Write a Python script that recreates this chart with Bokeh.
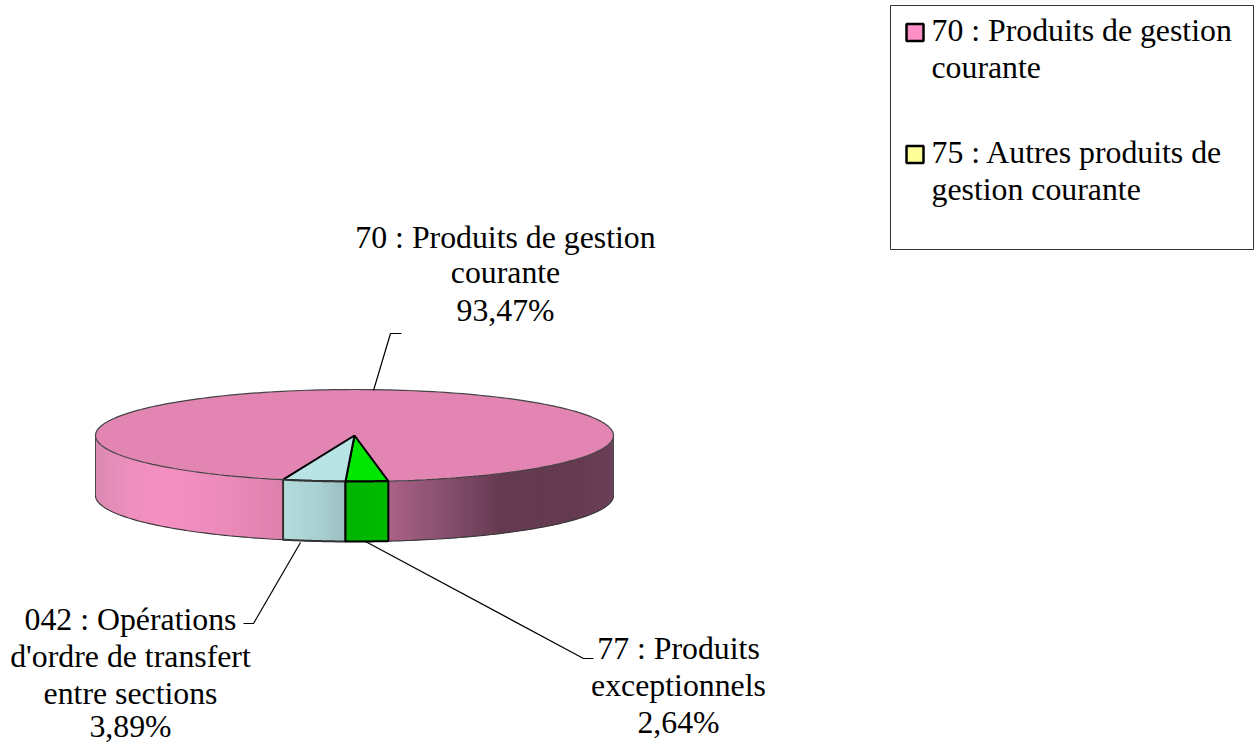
import numpy as np
from bokeh.plotting import figure
from bokeh.embed import file_html
from bokeh.resources import INLINE
from bokeh.core.properties import value

# ---- data ----
categories = ["70 : Produits de gestion courante", "75 : Autres produits de gestion courante",
              "77 : Produits exceptionnels", "042 : Opérations d'ordre de transfert entre sections"]
shares = [93.47, 0.0, 2.64, 3.89]
label_lines = [["70 : Produits de gestion", "courante", "93,47%"],
               ["77 : Produits", "exceptionnels", "2,64%"],
               ["042 : Opérations", "d'ordre de transfert", "entre sections", "3,89%"]]
legend_lines = [["70 : Produits de gestion", "courante"], ["75 : Autres produits de", "gestion courante"]]

W, H = 1257, 744
CX, CY, RX, RY, DEPTH = 354.0, 435.0, 259.0, 46.0, 60.0
FONT = "Liberation Serif"
FS = "31.8px"

p = figure(width=W, height=H, x_range=(0, W), y_range=(H, 0), output_backend="svg",
           toolbar_location=None, min_border=0)
p.axis.visible = False
p.grid.visible = False
p.outline_line_color = None


def pt(t, dy=0.0):
    # t measured in degrees from the front of the pie, positive to the right
    r = np.radians(t)
    return CX + RX * np.sin(r), CY + RY * np.cos(r) + dy


def hexmix(stops, f):
    xs = [s[0] for s in stops]
    c = [np.interp(f, xs, [int(s[1][i:i + 2], 16) for s in stops]) for i in (1, 3, 5)]
    return "#%02x%02x%02x" % tuple(int(round(v)) for v in c)


def wall(t0, t1, stops, n=60):
    ts = np.linspace(t0, t1, n + 1)
    xs, ys, cs = [], [], []
    for i, (a, b) in enumerate(zip(ts[:-1], ts[1:])):
        xa, ya = pt(a); xb, yb = pt(b)
        xc, yc = pt(ts[min(i + 2, n)])   # overlap into next strip, hides seams
        xs.append([xa, xb, xc, xc, xb, xa])
        ys.append([ya, yb, yc, yc + DEPTH, yb + DEPTH, ya + DEPTH])
        cs.append(hexmix(stops, (0.5 * (xa + xb))))
    p.patches(xs, ys, fill_color=cs, line_color=None)


def wall_outline(t0, t1, color, width):
    ts = np.linspace(t0, t1, 40)
    x0, y0 = pt(ts)
    x1, y1 = pt(ts[::-1], DEPTH)
    p.patch(list(x0) + list(x1), list(y0) + list(y1), fill_color=None, line_color=color, line_width=width)


FRONT_RIGHT = 7.5
green_deg = shares[2] * 3.6
teal_deg = shares[3] * 3.6
g0, g1 = FRONT_RIGHT - green_deg, FRONT_RIGHT
t0, t1 = g0 - teal_deg, g0

pink_stops = [(95, "#d98bb2"), (130, "#ee8fbe"), (170, "#f58fc3"), (230, "#ea8ab9"), (285, "#dc7fab"),
              (388, "#ab6287"), (440, "#8a5171"), (500, "#643a50"), (570, "#643a50"), (613, "#6c4058")]
wall(-90, t0, pink_stops)
wall(g1, 90, pink_stops, n=80)
ts = np.linspace(-90, 90, 181)
xb, yb = pt(ts, DEPTH)
p.line(xb, yb, line_color="#3a3a3a", line_width=1.2)
for sgn in (-90, 90):
    xe, ye = pt(sgn)
    p.line([xe, xe], [ye, ye + DEPTH], line_color="#4a4a4a", line_width=1.0)

# top disc
ts = np.linspace(g1, t0 + 360, 240)
xt, yt = pt(ts)
p.patch(list(xt) + [CX], list(yt) + [CY], fill_color="#e285b2", line_color="#444444", line_width=1.2)

# small slices: tops
ts = np.linspace(g0, g1, 12)
xt, yt = pt(ts)
p.patch(list(xt) + [CX], list(yt) + [CY], fill_color="#00e600", line_color="black", line_width=2)
ts = np.linspace(t0, t1, 12)
xt, yt = pt(ts)
p.patch(list(xt) + [CX], list(yt) + [CY], fill_color="#b8e4e6", line_color="black", line_width=2)

# small slices: walls
wall(t0, t1, [(281, "#b4dcdc"), (320, "#a9d0d0"), (344, "#9cbfc1")], n=16)
wall_outline(t0, t1, "#333333", 2)
wall(g0, g1, [(344, "#00b400"), (388, "#00ba00")], n=8)
wall_outline(g0, g1, "black", 2)

# leader lines
leaders = [([373, 390, 401], [390, 333, 333]),
           ([300, 253, 243], [542, 623, 623]),
           ([365, 583, 593], [541, 658, 658])]
for lx, ly in leaders:
    p.line(lx, ly, line_color="black", line_width=1.2)

# data labels
label_pos = [(505, [237, 272, 310]), (678, [648, 685, 722]), (130, [619, 656, 693, 726])]
for (x, ys), lines in zip(label_pos, label_lines):
    p.text([x] * len(lines), ys, text=lines, text_font=value(FONT), text_font_size=value(FS),
           text_align="center", text_baseline="middle", text_color="black")

# legend
p.patch([890, 1253, 1253, 890], [5, 5, 249, 249], fill_color="white", line_color="#333333", line_width=1)
leg_colors = ["#ff8fc7", "#ffff99"]
for sy, c, lines, ys in zip([32, 154], leg_colors, legend_lines, [[30, 67], [152, 189]]):
    p.patch([906, 923, 923, 906], [sy - 8.5, sy - 8.5, sy + 8.5, sy + 8.5], fill_color=c, line_color="black", line_width=2.5)
    p.text([931, 931], ys, text=lines, text_font=value(FONT), text_font_size=value(FS),
           text_align="left", text_baseline="middle", text_color="black")

open("out.html", "w").write(file_html(p, INLINE))
